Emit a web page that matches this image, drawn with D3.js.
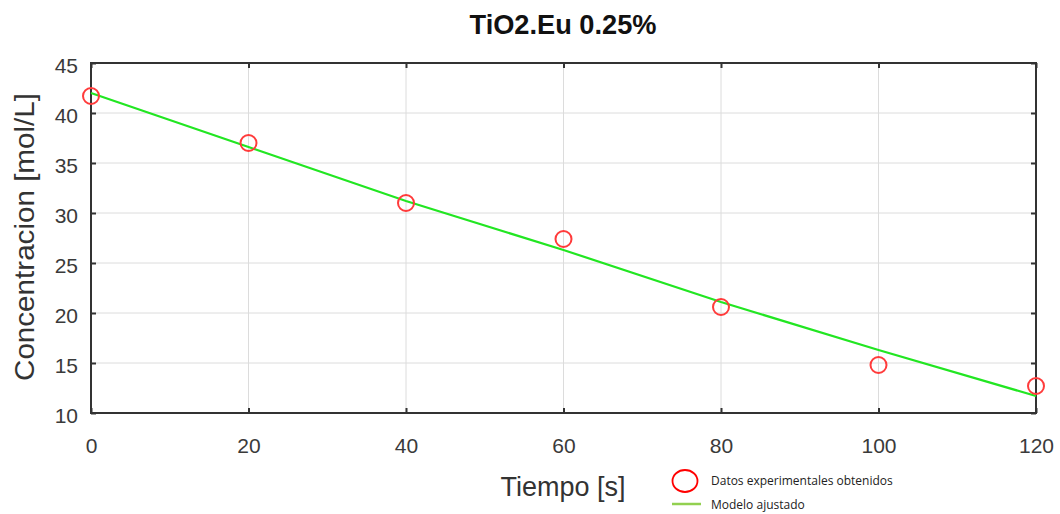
<!DOCTYPE html>
<html><head><meta charset="utf-8">
<script src="https://cdn.jsdelivr.net/npm/d3@7"></script>
<style>body{margin:0;background:#fff}svg{display:block}</style>
</head><body>
<svg id="c" width="1060" height="514"></svg>
<script>
const tiempo = [0, 20, 40, 60, 80, 100, 120];
const concentracion = [41.7, 37.0, 31.0, 27.4, 20.6, 14.8, 12.7];
const modeloX = [0, 20, 40, 60, 80, 100, 120];
const modeloY = [42.0, 36.6, 31.2, 26.3, 21.1, 16.3, 11.7];
const xTicks = [0, 20, 40, 60, 80, 100, 120];
const yTicks = [10, 15, 20, 25, 30, 35, 40, 45];
const title = "TiO2.Eu 0.25%";
const xLabel = "Tiempo [s]";
const yLabel = "Concentracion [mol/L]";
const legendLabels = ["Datos experimentales obtenidos", "Modelo ajustado"];

const svg = d3.select("#c");
const L = 91, R = 1036, T = 63, B = 413;
const x = d3.scaleLinear().domain([0, 120]).range([L, R]);
const y = d3.scaleLinear().domain([10, 45]).range([B, T]);
const tickFont = "'Liberation Sans', Arial, sans-serif";

// grid
const g = svg.append("g");
g.selectAll(".gx").data(xTicks).join("line")
  .attr("x1", d => x(d)).attr("x2", d => x(d)).attr("y1", T).attr("y2", B)
  .attr("stroke", "#dcdcdc").attr("stroke-width", 1);
g.selectAll(".gy").data(yTicks).join("line")
  .attr("x1", L).attr("x2", R).attr("y1", d => y(d)).attr("y2", d => y(d))
  .attr("stroke", "#dcdcdc").attr("stroke-width", 1);

// axes
const xAx = svg.append("g").attr("transform", `translate(0,${B})`)
  .call(d3.axisBottom(x).tickValues(xTicks).tickSize(-5).tickPadding(25).tickFormat(d3.format("d")));
const xAxT = svg.append("g").attr("transform", `translate(0,${T})`)
  .call(d3.axisTop(x).tickValues(xTicks).tickSize(-5).tickFormat(""));
const yAx = svg.append("g").attr("transform", `translate(${L},0)`)
  .call(d3.axisLeft(y).tickValues(yTicks).tickSize(-5).tickPadding(13).tickFormat(d3.format("d")));
const yAxR = svg.append("g").attr("transform", `translate(${R},0)`)
  .call(d3.axisRight(y).tickValues(yTicks).tickSize(-5).tickFormat(""));
[xAx, xAxT, yAx, yAxR].forEach(a => {
  a.select(".domain").remove();
  a.selectAll(".tick line").attr("stroke", "#333").attr("stroke-width", 2);
  a.selectAll(".tick text").attr("fill", "#3a3a3a").attr("font-size", 21).attr("font-family", tickFont);
});
yAx.selectAll(".tick text").attr("dy", "0.45em");
svg.append("rect").attr("x", L).attr("y", T).attr("width", R - L).attr("height", B - T)
  .attr("fill", "none").attr("stroke", "#333").attr("stroke-width", 2);

// model line
svg.append("path").datum(modeloX.map((d, i) => [d, modeloY[i]]))
  .attr("d", d3.line().x(d => x(d[0])).y(d => y(d[1])))
  .attr("stroke", "#22e622").attr("stroke-width", 2.2).attr("fill", "none");

// data points
svg.selectAll(".pt").data(tiempo).join("circle")
  .attr("cx", d => x(d)).attr("cy", (d, i) => y(concentracion[i])).attr("r", 8)
  .attr("fill", "none").attr("stroke", "#ff3b3b").attr("stroke-width", 2);

// title & labels
svg.append("text").attr("x", 563).attr("y", 34).attr("text-anchor", "middle")
  .attr("font-family", tickFont).attr("font-weight", "bold").attr("font-size", 28)
  .attr("textLength", 187).attr("lengthAdjust", "spacingAndGlyphs")
  .attr("fill", "#111").text(title);
svg.append("text").attr("x", 563).attr("y", 496).attr("text-anchor", "middle")
  .attr("font-family", tickFont).attr("font-size", 27).attr("fill", "#333")
  .attr("textLength", 125).attr("lengthAdjust", "spacingAndGlyphs").text(xLabel);
svg.append("text").attr("transform", `translate(34,237) rotate(-90)`).attr("text-anchor", "middle")
  .attr("font-family", tickFont).attr("font-size", 28).attr("fill", "#333")
  .attr("textLength", 288).attr("lengthAdjust", "spacingAndGlyphs").text(yLabel);

// legend
const lg = svg.append("g");
lg.append("ellipse").attr("cx", 685).attr("cy", 481).attr("rx", 12.5).attr("ry", 11)
  .attr("fill", "none").attr("stroke", "#ff0000").attr("stroke-width", 1.8);
lg.append("line").attr("x1", 672).attr("x2", 701).attr("y1", 504).attr("y2", 504)
  .attr("stroke", "#92d050").attr("stroke-width", 2.5);
lg.selectAll(".lt").data(legendLabels).join("text")
  .attr("x", 711).attr("y", (d, i) => i === 0 ? 485 : 509)
  .attr("font-family", "'Open Sans', sans-serif").attr("font-size", 12).attr("fill", "#222")
  .text(d => d);
</script>
</body></html>
